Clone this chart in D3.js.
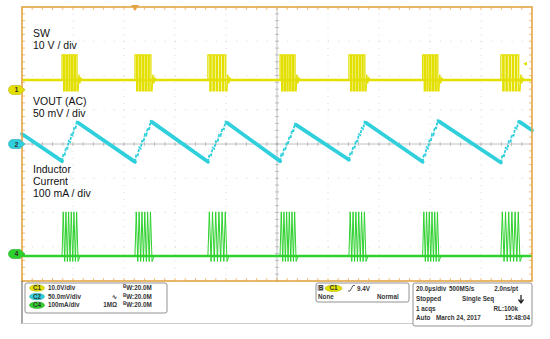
<!DOCTYPE html>
<html>
<head>
<meta charset="utf-8">
<script src="https://cdn.jsdelivr.net/npm/d3@7"></script>
<style>
  body { margin: 0; background: #fff; }
  svg { display: block; font-family: "Liberation Sans", Arial, sans-serif; }
  .info { font-size: 6.3px; font-weight: bold; fill: #333; }
</style>
</head>
<body>
<svg width="550" height="339"></svg>
<script>
"use strict";

// time of each switching burst (us)
const burstStart = [15.7, 44.3, 72.9, 101.2, 128.2, 157.1, 187.8];
const burstEnd   = [22.0, 51.0, 80.4, 107.5, 134.9, 163.5, 195.3];
const pulsesPerBurst = 6;

// SW (ch1) levels in V
const swLevels = { base: 2.9, high: 10.2, low: -0.3 };
// inductor current (ch4) levels in mA
const ilLevels = { base: -6, peak: 123, low: -22 };

// VOUT (ch2) sawtooth, mV at trough (burst start) and peak (burst end)
const voutTrough = [-25, -26, -26, -25, -23, -26, -27];
const voutPeak   = [31, 32, 31, 28, 31, 33, 32];
const voutStart  = 14.6;
const voutEnd    = 20;

// channel settings: units per div, marker position in divs
const channels = [
  {id: "1", perDiv: 10,  pos: 1.58,  color: "#e3e000"},
  {id: "2", perDiv: 50,  pos: 0,     color: "#2fd0dc"},
  {id: "4", perDiv: 100, pos: -3.21, color: "#2ed12e"}
];

const labels = [
  {lines: ["SW", "10 V / div"], y: 37},
  {lines: ["VOUT (AC)", "50 mV / div"], y: 105},
  {lines: ["Inductor", "Current", "100 mA / div"], y: 173}
];

const chanInfo = [
  {badge: "C1", scale: "10.0V/div", extra: "", bw: "W:20.0M"},
  {badge: "C2", scale: "50.0mV/div", extra: "\u223f", bw: "W:20.0M"},
  {badge: "C4", scale: "100mA/div", extra: "1M\u03a9", bw: "W:20.0M"}
];

const svg = d3.select("svg");
const pLeft = 22, pRight = 532, pTop = 7, pBottom = 281;
const border = "#e4a544";

var x = d3.scaleLinear().domain([0, 200]).range([pLeft, pRight]);
var ydiv = d3.scaleLinear().domain([-4, 4]).range([pBottom, pTop]);
function yOf(ch, v) { return ydiv(v / ch.perDiv + ch.pos); }

//grid
var grid = svg.append("g");
d3.range(1, 10).forEach(function(i) {
  var gx = x(i * 20);
  grid.append("line").attr("x1", gx).attr("x2", gx).attr("y1", pTop).attr("y2", pBottom)
    .attr("stroke", i == 5 ? "#b0b0b0" : "#c8c8c8")
    .attr("stroke-width", i == 5 ? 0.8 : 0.7)
    .attr("stroke-dasharray", i == 5 ? null : "1,5.85");
});
d3.range(-3, 4).forEach(function(i) {
  var gy = ydiv(i);
  grid.append("line").attr("x1", pLeft).attr("x2", pRight).attr("y1", gy).attr("y2", gy)
    .attr("stroke", i == 0 ? "#b0b0b0" : "#c8c8c8")
    .attr("stroke-width", i == 0 ? 0.8 : 0.7)
    .attr("stroke-dasharray", i == 0 ? null : "1,9.2");
});
//minor ticks on center lines and border
d3.range(0, 50).forEach(function(i) {
  var tx = x(i * 4);
  grid.append("line").attr("x1", tx).attr("x2", tx).attr("y1", ydiv(0) - 2).attr("y2", ydiv(0) + 2)
    .attr("stroke", "#aaa").attr("stroke-width", 0.7);
  grid.append("line").attr("x1", tx).attr("x2", tx).attr("y1", pTop).attr("y2", pTop + 3)
    .attr("stroke", border).attr("stroke-width", 0.7);
  grid.append("line").attr("x1", tx).attr("x2", tx).attr("y1", pBottom - 3).attr("y2", pBottom)
    .attr("stroke", border).attr("stroke-width", 0.7);
});
d3.range(0, 40).forEach(function(i) {
  var ty = ydiv(-4 + i * 0.2);
  grid.append("line").attr("x1", x(100) - 2).attr("x2", x(100) + 2).attr("y1", ty).attr("y2", ty)
    .attr("stroke", "#aaa").attr("stroke-width", 0.7);
  grid.append("line").attr("x1", pLeft).attr("x2", pLeft + 3).attr("y1", ty).attr("y2", ty)
    .attr("stroke", border).attr("stroke-width", 0.7);
  grid.append("line").attr("x1", pRight - 3).attr("x2", pRight).attr("y1", ty).attr("y2", ty)
    .attr("stroke", border).attr("stroke-width", 0.7);
});

//traces
var line = d3.line().x(d => x(d[0])).y(d => d[1]);

// SW
var ch1 = channels[0];
var swPts = [[0, yOf(ch1, swLevels.base)]];
burstStart.forEach(function(s, b) {
  var e = burstEnd[b], dt = (e - s) / pulsesPerBurst;
  swPts.push([s, yOf(ch1, swLevels.base)]);
  for (var k = 0; k < pulsesPerBurst; k++) {
    var t0 = s + k * dt;
    swPts.push([t0, yOf(ch1, swLevels.high)], [t0 + dt * 0.6, yOf(ch1, swLevels.high)],
               [t0 + dt * 0.6, yOf(ch1, swLevels.low)], [t0 + dt, yOf(ch1, swLevels.low)]);
  }
  swPts.push([e + 0.3, yOf(ch1, swLevels.base + 1.6)], [e + 0.7, yOf(ch1, swLevels.base - 1)],
             [e + 1.1, yOf(ch1, swLevels.base + 0.6)], [e + 1.6, yOf(ch1, swLevels.base)]);
});
swPts.push([200, yOf(ch1, swLevels.base)]);
svg.append("path").attr("d", line(swPts)).attr("fill", "none")
  .attr("stroke", ch1.color).attr("stroke-width", 1.3);
svg.append("line").attr("x1", pLeft).attr("x2", pRight)
  .attr("y1", yOf(ch1, swLevels.base)).attr("y2", yOf(ch1, swLevels.base))
  .attr("stroke", ch1.color).attr("stroke-width", 2.6);

// inductor current
var ch4 = channels[2];
var ilPts = [[0, yOf(ch4, ilLevels.base)]];
burstStart.forEach(function(s, b) {
  var e = burstEnd[b], dt = (e - s) / pulsesPerBurst;
  ilPts.push([s, yOf(ch4, ilLevels.base)]);
  for (var k = 0; k < pulsesPerBurst; k++) {
    var t0 = s + k * dt;
    ilPts.push([t0 + dt * 0.45, yOf(ch4, ilLevels.peak)], [t0 + dt, yOf(ch4, ilLevels.low)]);
  }
  ilPts.push([e + 0.8, yOf(ch4, ilLevels.base)]);
});
ilPts.push([200, yOf(ch4, ilLevels.base)]);
svg.append("path").attr("d", line(ilPts)).attr("fill", "none")
  .attr("stroke", ch4.color).attr("stroke-width", 1);
svg.append("line").attr("x1", pLeft).attr("x2", pRight)
  .attr("y1", yOf(ch4, ilLevels.base)).attr("y2", yOf(ch4, ilLevels.base))
  .attr("stroke", ch4.color).attr("stroke-width", 2.6);

// VOUT: falling ramps thick, rising edges as step zigzag
var ch2 = channels[1];
var prev = [0, voutStart];
var vg = svg.append("g");
function ramp(a, b2) {
  vg.append("path").attr("d", line([[a[0], yOf(ch2, a[1])], [b2[0], yOf(ch2, b2[1])]]))
    .attr("fill", "none").attr("stroke", ch2.color).attr("stroke-width", 3.8).attr("stroke-linecap", "round");
}
burstStart.forEach(function(s, b) {
  ramp(prev, [s, voutTrough[b]]);
  var e = burstEnd[b], dt = (e - s) / pulsesPerBurst, step = (voutPeak[b] - voutTrough[b]) / pulsesPerBurst;
  var zz = [];
  for (var k = 0; k <= pulsesPerBurst; k++) {
    var t0 = s + k * dt, v0 = voutTrough[b] + k * step;
    zz.push([t0, yOf(ch2, v0)]);
    if (k < pulsesPerBurst) zz.push([t0 + dt * 0.5, yOf(ch2, v0 + step * 1.15)]);
  }
  vg.append("path").attr("d", line(zz)).attr("fill", "none")
    .attr("stroke", ch2.color).attr("stroke-width", 1.8).attr("stroke-dasharray", "3,1.2");
  prev = [e, voutPeak[b]];
});
ramp(prev, [200, voutEnd]);

//border
svg.append("rect").attr("x", pLeft).attr("y", pTop).attr("width", pRight - pLeft).attr("height", pBottom - pTop)
  .attr("fill", "none").attr("stroke", border).attr("stroke-width", 1.6);

//trigger markers
svg.append("path").attr("d", "M131,5 L139,5 L135,11 Z").attr("fill", border);
var trigY = yOf(ch1, 7.6);
svg.append("path").attr("d", "M523," + trigY + " L527," + (trigY - 2) + " L527," + (trigY + 2) + " Z")
  .attr("fill", ch1.color);

//channel markers
channels.forEach(function(ch) {
  var my = ydiv(ch.pos);
  var m = svg.append("g").attr("transform", "translate(" + 18 + "," + my + ")");
  m.append("path").attr("d", "M-5,-4.5 L2,-4.5 L7,0 L2,4.5 L-5,4.5 A4.5,4.5 0 0 1 -5,-4.5 Z")
    .attr("fill", ch.color).attr("stroke", d3.color(ch.color).darker(0.6)).attr("stroke-width", 0.6);
  m.append("text").attr("x", -1.5).attr("y", 2.5).attr("text-anchor", "middle")
    .attr("font-size", 7).attr("font-weight", "bold").attr("fill", "#333").text(ch.id);
});

//channel labels
labels.forEach(function(l) {
  var t = svg.append("text").attr("font-size", 10.5).attr("fill", "#111");
  l.lines.forEach(function(s, i) {
    t.append("tspan").attr("x", 33).attr("y", l.y + i * 12.2).text(s);
  });
});

//bottom panel
var panel = svg.append("g");
panel.append("line").attr("x1", pLeft).attr("x2", pLeft).attr("y1", pBottom).attr("y2", 324)
  .attr("stroke", "#555").attr("stroke-width", 1);
panel.append("line").attr("x1", pLeft).attr("x2", 413).attr("y1", 323.5).attr("y2", 323.5)
  .attr("stroke", "#ccc").attr("stroke-width", 1);
panel.append("rect").attr("x", 25).attr("y", 283).attr("width", 142).attr("height", 30).attr("rx", 2)
  .attr("fill", "#fff").attr("stroke", "#777").attr("stroke-width", 0.8);
chanInfo.forEach(function(c, i) {
  var ry = 290 + i * 8.6;
  panel.append("ellipse").attr("cx", 37).attr("cy", ry - 2).attr("rx", 7.5).attr("ry", 3.3)
    .attr("fill", channels[i].color).attr("stroke", d3.color(channels[i].color).darker(0.7)).attr("stroke-width", 0.5);
  panel.append("text").attr("class", "info").attr("x", 37).attr("y", ry).attr("text-anchor", "middle")
    .attr("font-size", 4.5).attr("fill", d3.color(channels[i].color).darker(1.2)).text(c.badge);
  panel.append("text").attr("class", "info").attr("x", 48).attr("y", ry).text(c.scale);
  panel.append("text").attr("class", "info").attr("x", 117).attr("y", ry).attr("text-anchor", "end").text(c.extra);
  var bw = panel.append("text").attr("class", "info").attr("x", 123).attr("y", ry);
  bw.append("tspan").attr("font-size", 4.5).attr("dy", -2).text("B");
  bw.append("tspan").attr("dy", 2).text(c.bw);
});

// trigger box
panel.append("rect").attr("x", 316).attr("y", 283).attr("width", 93).attr("height", 19).attr("rx", 2)
  .attr("fill", "#fff").attr("stroke", "#777").attr("stroke-width", 0.8);
panel.append("rect").attr("x", 318).attr("y", 285.5).attr("width", 5).attr("height", 5)
  .attr("fill", "#ccc").attr("stroke", "#555").attr("stroke-width", 0.5);
panel.append("text").attr("class", "info").attr("x", 318.8).attr("y", 290).attr("font-size", 5).text("B");
panel.append("ellipse").attr("cx", 333.5).attr("cy", 288.3).attr("rx", 8.5).attr("ry", 3.3)
  .attr("fill", ch1.color).attr("stroke", d3.color(ch1.color).darker(0.7)).attr("stroke-width", 0.5);
panel.append("text").attr("class", "info").attr("x", 333.5).attr("y", 290).attr("text-anchor", "middle")
  .attr("font-size", 4.5).attr("fill", d3.color(ch1.color).darker(1.2)).text("C1");
panel.append("path").attr("d", "M348,291 L350,291 L353,285.5 L355,285.5").attr("fill", "none")
  .attr("stroke", "#333").attr("stroke-width", 0.8);
panel.append("text").attr("class", "info").attr("x", 357).attr("y", 290.5).text("9.4V");
panel.append("text").attr("class", "info").attr("x", 318).attr("y", 299).text("None");
panel.append("text").attr("class", "info").attr("x", 377).attr("y", 299).text("Normal");

// acquisition box
panel.append("rect").attr("x", 413).attr("y", 283).attr("width", 119).attr("height", 43).attr("rx", 2)
  .attr("fill", "#fff").attr("stroke", "#777").attr("stroke-width", 0.8);
var acq = [
  {x: 416, y: 291, t: "20.0\u00b5s/div", a: "start"}, {x: 449, y: 291, t: "500MS/s", a: "start"},
  {x: 518, y: 291, t: "2.0ns/pt", a: "end"},
  {x: 416, y: 301, t: "Stopped", a: "start"}, {x: 462, y: 301, t: "Single Seq", a: "start"},
  {x: 416, y: 310.5, t: "1 acqs", a: "start"}, {x: 518, y: 310.5, t: "RL:100k", a: "end"},
  {x: 416, y: 320, t: "Auto", a: "start"}, {x: 436, y: 320, t: "March 24, 2017", a: "start"},
  {x: 530, y: 320, t: "15:48:04", a: "end"}
];
acq.forEach(function(a) {
  panel.append("text").attr("class", "info").attr("x", a.x).attr("y", a.y)
    .attr("text-anchor", a.a).text(a.t);
});
// stop arrow
panel.append("path").attr("d", "M521,295 L521,301.5 M518.5,299.5 L521,303 L523.5,299.5")
  .attr("fill", "none").attr("stroke", "#222").attr("stroke-width", 1.3);
</script>
</body>
</html>
